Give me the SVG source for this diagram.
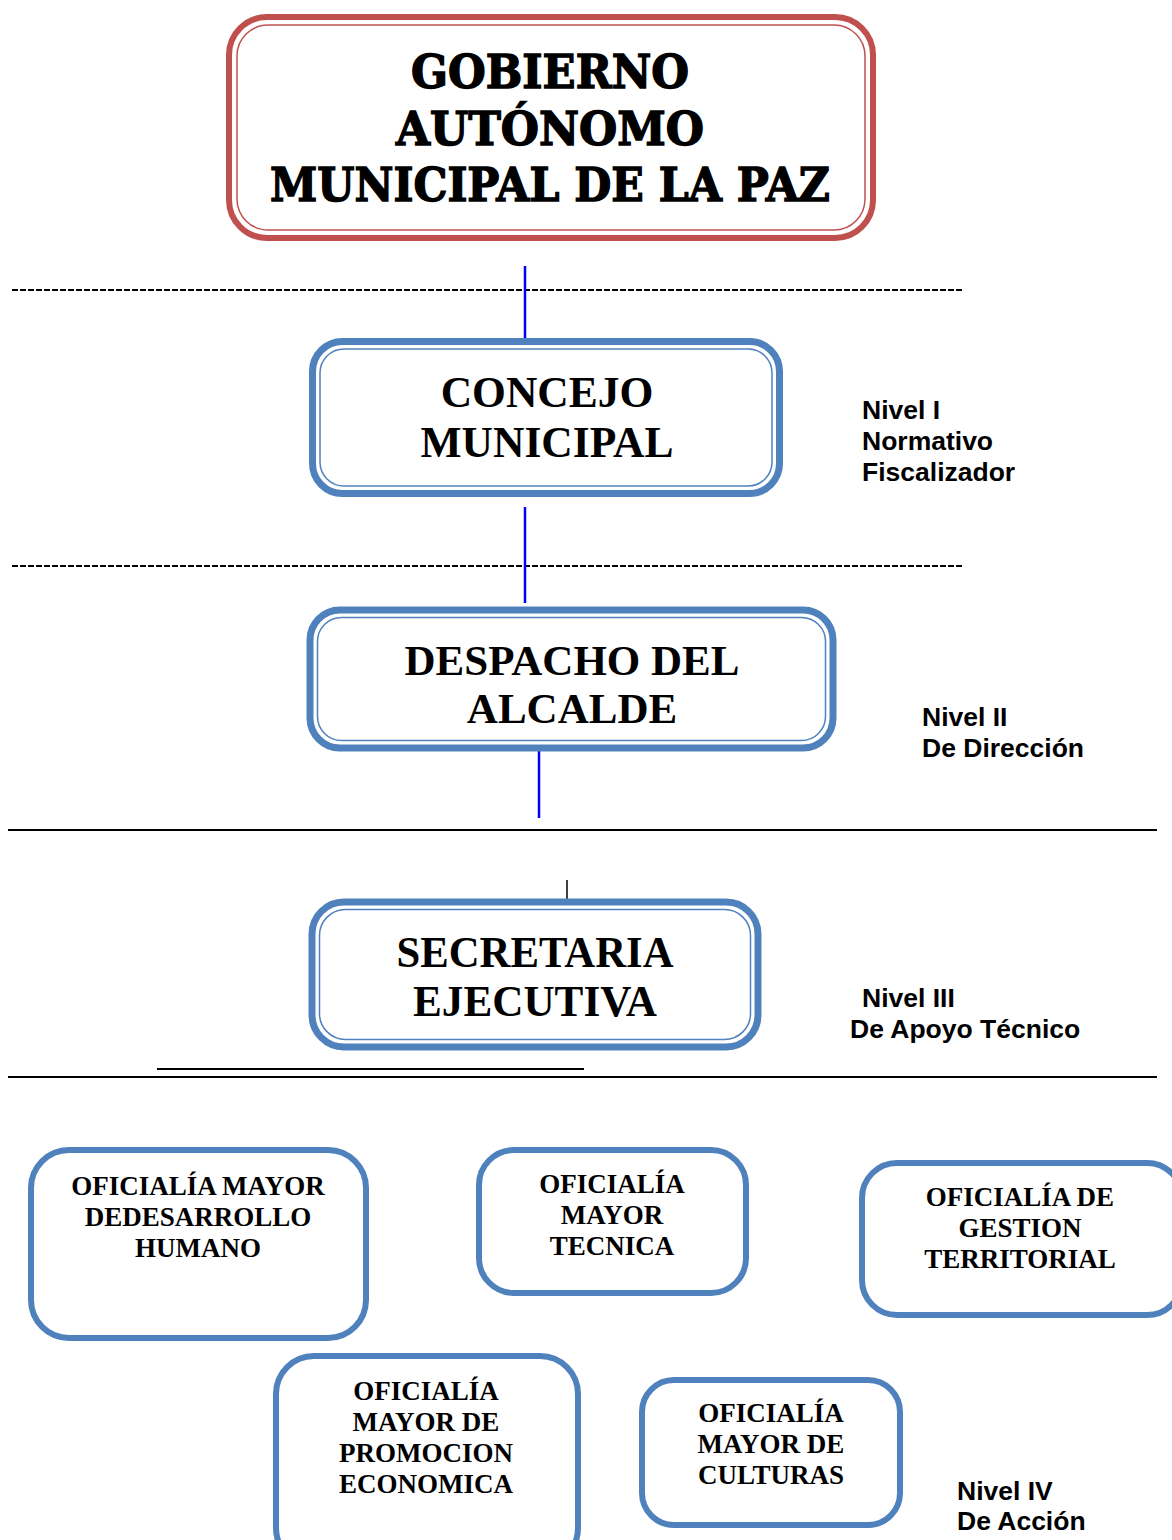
<svg xmlns="http://www.w3.org/2000/svg" width="1172" height="1540" viewBox="0 0 1172 1540">
<style>
.red{fill:#fff;stroke:#C0504D;stroke-width:6}
.redin{fill:none;stroke:#C0504D;stroke-width:1.5}
.blue{fill:#fff;stroke:#4F81BD;stroke-width:7}
.bluein{fill:none;stroke:#4F81BD;stroke-width:1.5}
.box{fill:#fff;stroke:#4F81BD;stroke-width:6}
.slab{font-family:"DejaVu Serif","Liberation Serif",serif;font-weight:bold;font-size:46px;fill:#000;stroke:#000;stroke-width:1.4;text-anchor:middle}
.tb{font-family:"Liberation Serif","Times New Roman",serif;font-weight:bold;fill:#000;text-anchor:middle}
.big{font-size:43.5px}
.small{font-size:27px}
.lvl{font-family:"Liberation Sans",Arial,sans-serif;font-weight:bold;font-size:26.5px;fill:#000}
.dash{stroke:#000;stroke-width:2;stroke-dasharray:6 2}
.solid{stroke:#000;stroke-width:2}
.bl{stroke:#0000FF;stroke-width:2.5}
</style>
<rect width="1172" height="1540" fill="#fff"/>
<g id="connectors">
<line class="dash" x1="12" y1="290" x2="962" y2="290"/>
<line class="dash" x1="12" y1="566" x2="962" y2="566"/>
<line class="bl" x1="525" y1="266" x2="525" y2="340"/>
<line class="bl" x1="525" y1="507" x2="525" y2="603" stroke-width="3"/>
<line class="bl" x1="539" y1="746" x2="539" y2="818"/>
<line class="solid" x1="8" y1="830" x2="1157" y2="830"/>
<line stroke="#000" stroke-width="1.5" x1="567" y1="880" x2="567" y2="905"/>
<line class="solid" x1="157" y1="1069" x2="584" y2="1069"/>
<line class="solid" x1="8" y1="1077" x2="1157" y2="1077"/>
</g>
<g id="gobierno">
<rect class="red" x="229" y="17" width="644" height="221" rx="38"/>
<rect class="redin" x="237" y="25" width="628" height="205" rx="31"/>
<text class="slab" x="550" y="88" textLength="278" lengthAdjust="spacingAndGlyphs">GOBIERNO</text>
<text class="slab" x="550" y="145" textLength="308" lengthAdjust="spacingAndGlyphs">AUTÓNOMO</text>
<text class="slab" x="550" y="201" textLength="560" lengthAdjust="spacingAndGlyphs">MUNICIPAL DE LA PAZ</text>
</g>
<g id="concejo">
<rect class="blue" x="312.5" y="341.5" width="467" height="152" rx="30"/>
<rect class="bluein" x="320" y="349" width="452" height="137" rx="24"/>
<text class="tb big" x="547" y="407">CONCEJO</text>
<text class="tb big" x="547" y="457">MUNICIPAL</text>
</g>
<g id="despacho">
<rect class="blue" x="310" y="610" width="523" height="138" rx="30"/>
<rect class="bluein" x="317.5" y="617.5" width="508" height="123" rx="24"/>
<text class="tb" font-size="43" x="572" y="675">DESPACHO DEL</text>
<text class="tb" font-size="43" x="572" y="723">ALCALDE</text>
</g>
<g id="secretaria">
<rect class="blue" x="312" y="902" width="446" height="145" rx="32"/>
<rect class="bluein" x="319.5" y="909.5" width="431" height="130" rx="26"/>
<text class="tb" font-size="45" x="535" y="967" textLength="277" lengthAdjust="spacingAndGlyphs">SECRETARIA</text>
<text class="tb" font-size="45" x="535" y="1016" textLength="244" lengthAdjust="spacingAndGlyphs">EJECUTIVA</text>
</g>
<g id="nivel1">
<text class="lvl" x="862" y="419">Nivel I</text>
<text class="lvl" x="862" y="450">Normativo</text>
<text class="lvl" x="862" y="481">Fiscalizador</text>
</g>
<g id="nivel2">
<text class="lvl" x="922" y="726">Nivel II</text>
<text class="lvl" x="922" y="757">De Dirección</text>
</g>
<g id="nivel3">
<text class="lvl" x="862" y="1007">Nivel III</text>
<text class="lvl" x="850" y="1038">De Apoyo Técnico</text>
</g>
<g id="nivel4">
<text class="lvl" x="957" y="1500">Nivel IV</text>
<text class="lvl" x="957" y="1530">De Acción</text>
</g>
<g id="om-desarrollo">
<rect class="box" x="31" y="1150" width="335" height="188" rx="38"/>
<text class="tb small" x="198" y="1195">OFICIALÍA MAYOR</text>
<text class="tb small" x="198" y="1226">DEDESARROLLO</text>
<text class="tb small" x="198" y="1257">HUMANO</text>
</g>
<g id="om-tecnica">
<rect class="box" x="479" y="1150" width="267" height="143" rx="35"/>
<text class="tb small" x="612" y="1193">OFICIALÍA</text>
<text class="tb small" x="612" y="1224">MAYOR</text>
<text class="tb small" x="612" y="1255">TECNICA</text>
</g>
<g id="o-gestion">
<rect class="box" x="862" y="1163" width="320" height="152" rx="35"/>
<text class="tb small" x="1020" y="1206">OFICIALÍA DE</text>
<text class="tb small" x="1020" y="1237">GESTION</text>
<text class="tb small" x="1020" y="1268">TERRITORIAL</text>
</g>
<g id="om-promocion">
<rect class="box" x="276" y="1356" width="302" height="210" rx="38"/>
<text class="tb small" x="426" y="1400">OFICIALÍA</text>
<text class="tb small" x="426" y="1431">MAYOR DE</text>
<text class="tb small" x="426" y="1462">PROMOCION</text>
<text class="tb small" x="426" y="1493">ECONOMICA</text>
</g>
<g id="om-culturas">
<rect class="box" x="642" y="1380" width="258" height="145" rx="32"/>
<text class="tb small" x="771" y="1422">OFICIALÍA</text>
<text class="tb small" x="771" y="1453">MAYOR DE</text>
<text class="tb small" x="771" y="1484">CULTURAS</text>
</g>
</svg>
